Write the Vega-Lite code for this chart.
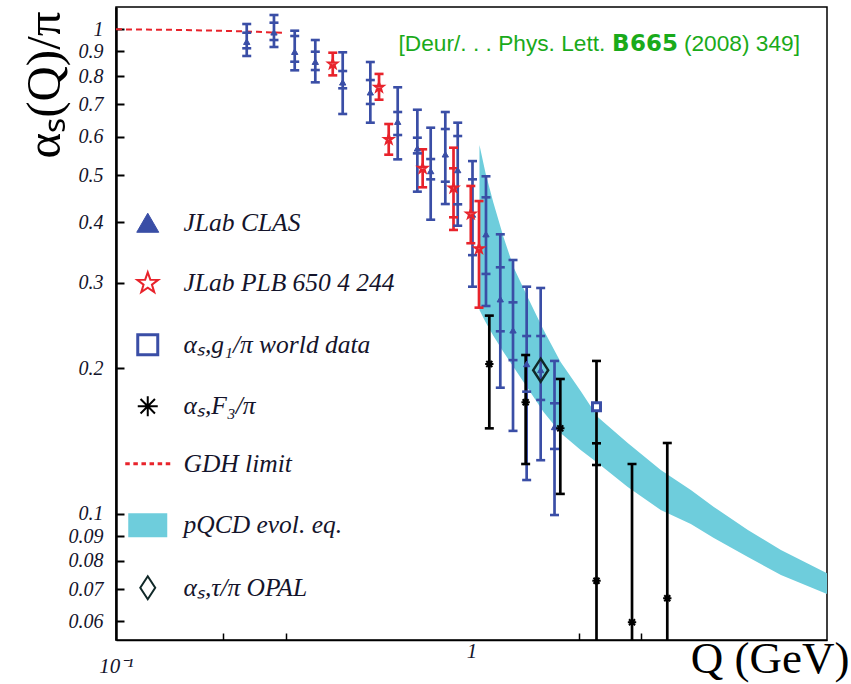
{
  "$schema": "https://vega.github.io/schema/vega-lite/v6.json",
  "width": 711,
  "height": 633,
  "autosize": {"type": "none"},
  "padding": {"left": 116, "top": 7, "right": 24, "bottom": 44},
  "background": "white",
  "config": {"view": {"stroke": "black", "strokeWidth": 1.5}, "axis": {"grid": false}},
  "title": {
    "text": "[Deur/. . . Phys. Lett. 𝗕𝟲𝟲𝟱 (2008) 349]",
    "anchor": "end", "orient": "top", "frame": "group", "offset": 0,
    "dx": -27, "dy": 60, "baseline": "middle",
    "font": "Liberation Sans", "fontSize": 22.7, "fontWeight": "normal", "color": "#1aaa1a"
  },
  "datasets": {
    "band": [
      {"q": 1.053, "lo": 0.2636, "hi": 0.577},
      {"q": 1.095, "lo": 0.2489, "hi": 0.505},
      {"q": 1.153, "lo": 0.2329, "hi": 0.438},
      {"q": 1.230, "lo": 0.2159, "hi": 0.373},
      {"q": 1.313, "lo": 0.2010, "hi": 0.323},
      {"q": 1.438, "lo": 0.1820, "hi": 0.2804},
      {"q": 1.595, "lo": 0.1623, "hi": 0.2397},
      {"q": 1.781, "lo": 0.1469, "hi": 0.2059},
      {"q": 2.028, "lo": 0.1355, "hi": 0.1794},
      {"q": 2.265, "lo": 0.1274, "hi": 0.1586},
      {"q": 2.751, "lo": 0.1137, "hi": 0.1401},
      {"q": 3.407, "lo": 0.1019, "hi": 0.1232},
      {"q": 4.140, "lo": 0.0954, "hi": 0.1121},
      {"q": 4.805, "lo": 0.0892, "hi": 0.1034},
      {"q": 5.991, "lo": 0.0815, "hi": 0.0927},
      {"q": 7.420, "lo": 0.0748, "hi": 0.0843},
      {"q": 10.0, "lo": 0.0684, "hi": 0.0755}
    ],
    "gdh": [
      {"q": 0.1, "a": 1.0},
      {"q": 0.15, "a": 0.997},
      {"q": 0.2, "a": 0.993},
      {"q": 0.25, "a": 0.988},
      {"q": 0.3, "a": 0.983}
    ],
    "pts": [
      {"s": "clas", "q": 0.2332, "a": 0.9428, "lo": 0.8810, "hi": 1.0255, "ilo": 0.9138, "ihi": 0.9840},
      {"s": "clas", "q": 0.2782, "a": 0.9858, "lo": 0.9194, "hi": 1.0703, "ilo": 0.9504, "ihi": 1.0319},
      {"s": "clas", "q": 0.3182, "a": 0.8990, "lo": 0.8230, "hi": 0.9934, "ilo": 0.8573, "ihi": 0.9687},
      {"s": "clas", "q": 0.3636, "a": 0.8573, "lo": 0.7773, "hi": 0.9504, "ilo": 0.8241, "ihi": 0.8990},
      {"s": "clas", "q": 0.4342, "a": 0.7773, "lo": 0.6688, "hi": 0.8965, "ilo": 0.7556, "ihi": 0.8202},
      {"s": "clas", "q": 0.5193, "a": 0.7414, "lo": 0.6417, "hi": 0.8561, "ilo": 0.7014, "ihi": 0.7858},
      {"s": "clas", "q": 0.6200, "a": 0.6448, "lo": 0.5391, "hi": 0.7592, "ilo": 0.6052, "ihi": 0.6751},
      {"s": "clas", "q": 0.7042, "a": 0.5680, "lo": 0.4624, "hi": 0.6824, "ilo": 0.5547, "ihi": 0.5975},
      {"s": "clas", "q": 0.7677, "a": 0.5101, "lo": 0.4047, "hi": 0.6266, "ilo": 0.4903, "ihi": 0.5399},
      {"s": "clas", "q": 0.8440, "a": 0.5522, "lo": 0.4360, "hi": 0.6751, "ilo": 0.4848, "ihi": 0.6227},
      {"s": "clas", "q": 0.9146, "a": 0.5125, "lo": 0.3933, "hi": 0.6417, "ilo": 0.4354, "ihi": 0.6023},
      {"s": "clas", "q": 1.0065, "a": 0.4149, "lo": 0.2944, "hi": 0.5347, "ilo": 0.3420, "ihi": 0.4903},
      {"s": "clas", "q": 1.0984, "a": 0.3778, "lo": 0.2686, "hi": 0.4974, "ilo": 0.3128, "ihi": 0.4501},
      {"s": "clas", "q": 1.2051, "a": 0.2774, "lo": 0.1822, "hi": 0.3776, "ilo": 0.2382, "ihi": 0.3228},
      {"s": "clas", "q": 1.3085, "a": 0.2393, "lo": 0.1484, "hi": 0.3342, "ilo": 0.2077, "ihi": 0.2733},
      {"s": "clas", "q": 1.4294, "a": 0.2039, "lo": 0.1175, "hi": 0.2944, "ilo": 0.1788, "ihi": 0.2329},
      {"s": "clas", "q": 1.5653, "a": 0.1982, "lo": 0.1291, "hi": 0.2926, "ilo": 0.1719, "ihi": 0.2329},
      {"s": "clas", "q": 1.7121, "a": 0.1512, "lo": 0.0995, "hi": 0.2069, "ilo": 0.1362, "ihi": 0.1692},
      {"s": "plb", "q": 0.4071, "a": 0.8480, "lo": 0.8035, "hi": 0.8948},
      {"s": "plb", "q": 0.5494, "a": 0.7592, "lo": 0.7157, "hi": 0.8090},
      {"s": "plb", "q": 0.5850, "a": 0.5930, "lo": 0.5512, "hi": 0.6377},
      {"s": "plb", "q": 0.7288, "a": 0.5167, "lo": 0.4721, "hi": 0.5655},
      {"s": "plb", "q": 0.8900, "a": 0.4706, "lo": 0.3855, "hi": 0.5698, "ilo": 0.4094, "ihi": 0.5167},
      {"s": "plb", "q": 0.9955, "a": 0.4159, "lo": 0.3619, "hi": 0.4751},
      {"s": "plb", "q": 1.0498, "a": 0.3527, "lo": 0.2665, "hi": 0.4422},
      {"s": "f3", "q": 1.1223, "a": 0.2039, "lo": 0.1502, "hi": 0.2566},
      {"s": "f3", "q": 1.4201, "a": 0.1700, "lo": 0.1268, "hi": 0.2128},
      {"s": "f3", "q": 1.7775, "a": 0.1502, "lo": 0.1100, "hi": 0.1899},
      {"s": "f3", "q": 2.2470, "a": 0.0728, "lo": 0.05, "hi": 0.2069},
      {"s": "f3", "q": 2.2470, "a": null, "lo": 0.1262, "hi": 0.1399},
      {"s": "f3", "q": 2.8283, "a": 0.0598, "lo": 0.05, "hi": 0.1268},
      {"s": "f3", "q": 3.5541, "a": 0.0670, "lo": 0.05, "hi": 0.1401},
      {"s": "g1", "q": 2.2470, "a": 0.1665},
      {"s": "opal", "q": 1.5653, "a": 0.1980}
    ]
  },
  "layer": [
    {
      "data": {"name": "band"},
      "mark": {"type": "area", "color": "#6ecddc", "opacity": 1, "clip": true},
      "encoding": {
        "x": {
          "field": "q", "type": "quantitative",
          "scale": {"type": "log", "domain": [0.1, 10], "nice": false},
          "axis": {
            "values": [0.1, 0.2, 0.3, 1, 2, 3],
            "labelExpr": "datum.value == 0.1 ? '10⁻¹' : datum.value == 1 ? '1' : ''",
            "labelFont": "Liberation Serif", "labelFontStyle": "italic", "labelFontSize": 21,
            "labelColor": "#14142b",
            "labelPadding": {"condition": {"test": "datum.value == 0.1", "value": 22}, "value": 7},
            "labelFlush": false, "labelOverlap": false,
            "tickSize": -7, "tickWidth": 1.5, "tickColor": "black",
            "tickOpacity": {"condition": {"test": "datum.value == 1 || datum.value == 0.1", "value": 0}, "value": 1},
            "domainColor": "black", "domainWidth": 1.5,
            "title": "Q (GeV)", "titleFont": "Liberation Serif", "titleFontSize": 45,
            "titleFontWeight": "normal", "titleColor": "black",
            "titleX": 733, "titleY": 32, "titleAlign": "right", "titleBaseline": "alphabetic"
          }
        },
        "y": {
          "field": "lo", "type": "quantitative",
          "scale": {"type": "log", "domain": [0.05495, 1.1118], "nice": false},
          "axis": {
            "values": [0.06, 0.07, 0.08, 0.09, 0.1, 0.2, 0.3, 0.4, 0.5, 0.6, 0.7, 0.8, 0.9, 1],
            "labelExpr": "format(datum.value, '~g')",
            "labelFont": "Liberation Serif", "labelFontStyle": "italic", "labelFontSize": 20,
            "labelColor": "#14142b", "labelPadding": 21, "labelFlush": false, "labelOverlap": false,
            "tickSize": -8, "tickWidth": 2, "tickColor": "black",
            "domainColor": "black", "domainWidth": 2.5,
            "title": "αₛ(Q)/π", "titleFont": "Liberation Serif", "titleFontSize": 49,
            "titleFontWeight": "normal", "titleColor": "black",
            "titleAngle": -90, "titleX": -72, "titleY": 4, "titleAlign": "right", "titleBaseline": "middle"
          }
        },
        "y2": {"field": "hi"}
      }
    },
    {
      "data": {"name": "gdh"},
      "mark": {"type": "line", "color": "#e8232b", "strokeWidth": 2, "strokeDash": [6, 4], "clip": true},
      "encoding": {
        "x": {"field": "q", "type": "quantitative"},
        "y": {"field": "a", "type": "quantitative"}
      }
    },
    {
      "data": {"name": "pts"},
      "transform": [{"filter": "isValid(datum.lo)"}],
      "mark": {"type": "rule", "strokeWidth": 2.7, "clip": true, "opacity": 1},
      "encoding": {
        "x": {"field": "q", "type": "quantitative"},
        "y": {"field": "lo", "type": "quantitative"},
        "y2": {"field": "hi"},
        "color": {"field": "s", "type": "nominal", "scale": {"domain": ["clas", "plb", "f3"], "range": ["#3a4ea6", "#e8232b", "#000000"]}, "legend": null}
      }
    },
    {
      "data": {"name": "pts"},
      "transform": [
        {"fold": ["lo", "hi", "ilo", "ihi"], "as": ["k", "v"]},
        {"filter": "isValid(datum.v)"}
      ],
      "mark": {"type": "tick", "orient": "horizontal", "size": 9, "thickness": 2.6, "clip": true, "opacity": 1},
      "encoding": {
        "x": {"field": "q", "type": "quantitative"},
        "y": {"field": "v", "type": "quantitative"},
        "color": {"field": "s", "type": "nominal", "scale": {"domain": ["clas", "plb", "f3"], "range": ["#3a4ea6", "#e8232b", "#000000"]}, "legend": null}
      }
    },
    {
      "data": {"name": "pts"},
      "transform": [{"filter": "isValid(datum.a)"}],
      "encoding": {
        "x": {"field": "q", "type": "quantitative"},
        "y": {"field": "a", "type": "quantitative"},
        "shape": {
          "field": "s", "type": "nominal",
          "scale": {
            "domain": ["clas", "plb", "g1", "f3", "gdh", "pqcd", "opal"],
            "range": [
              "triangle-up",
              "M0,-1L0.235,-0.324L0.951,-0.309L0.38,0.124L0.588,0.809L0,0.4L-0.588,0.809L-0.38,0.124L-0.951,-0.309L-0.235,-0.324Z",
              "square",
              "M-1,0L1,0M0,-1L0,1M-0.72,-0.72L0.72,0.72M-0.72,0.72L0.72,-0.72",
              "M-1,0h0.2M-0.64,0h0.2M-0.28,0h0.2M0.08,0h0.2M0.44,0h0.2M0.8,0h0.2",
              "M-1,-0.615L1,-0.615L1,0.615L-1,0.615Z",
              "M0,-1L0.65,0L0,1L-0.65,0Z"
            ]
          },
          "legend": {
            "orient": "none", "legendX": 19, "legendY": 203, "title": null, "padding": 0,
            "symbolSize": 484, "labelFont": "Liberation Serif", "labelFontStyle": "italic",
            "labelFontSize": 25.5, "labelColor": "#14142b", "labelOffset": 23, "rowPadding": 30.5,
            "labelLimit": 400,
            "labelExpr": "datum.value === 'clas' ? 'JLab CLAS' : datum.value === 'plb' ? 'JLab PLB 650 4 244' : datum.value === 'g1' ? 'αₛ,g₁/π world data' : datum.value === 'f3' ? 'αₛ,F₃/π' : datum.value === 'gdh' ? 'GDH limit' : datum.value === 'pqcd' ? 'pQCD evol. eq.' : 'αₛ,τ/π OPAL'",
            "encoding": {
              "symbols": {
                "size": {"value": {"expr": "datum.value === 'gdh' ? 2025 : datum.value === 'pqcd' ? 1521 : datum.value === 'opal' ? 529 : (datum.value === 'g1' || datum.value === 'f3') ? 400 : 484"}},
                "strokeWidth": {"value": {"expr": "(datum.value === 'gdh' || datum.value === 'g1') ? 3 : datum.value === 'clas' ? 1 : 2"}},
                "opacity": {"value": 1}
              }
            }
          }
        },
        "fill": {
          "field": "s", "type": "nominal",
          "scale": {
            "domain": ["clas", "plb", "g1", "f3", "gdh", "pqcd", "opal"],
            "range": ["#3a4ea6", "white", "white", "transparent", "transparent", "#6ecddc", "transparent"]
          }
        },
        "stroke": {
          "field": "s", "type": "nominal",
          "scale": {
            "domain": ["clas", "plb", "g1", "f3", "gdh", "pqcd", "opal"],
            "range": ["#3a4ea6", "#e8232b", "#3a4ea6", "#000000", "#e8232b", "transparent", "#102828"]
          }
        }
      },
      "layer": [
        {"transform": [{"filter": "datum.s === 'clas'"}], "mark": {"type": "point", "size": 40, "strokeWidth": 1, "opacity": 1, "clip": true}},
        {"transform": [{"filter": "datum.s === 'plb'"}], "mark": {"type": "point", "size": 70, "strokeWidth": 2.4, "opacity": 1, "clip": true}},
        {"transform": [{"filter": "datum.s === 'f3'"}], "mark": {"type": "point", "size": 70, "strokeWidth": 2, "opacity": 1, "clip": true}},
        {"transform": [{"filter": "datum.s === 'g1'"}], "mark": {"type": "point", "size": 64, "strokeWidth": 3, "opacity": 1, "clip": true}},
        {"transform": [{"filter": "datum.s === 'opal'"}], "mark": {"type": "point", "size": 529, "strokeWidth": 2.5, "opacity": 1, "clip": true}}
      ]
    }
  ]
}
